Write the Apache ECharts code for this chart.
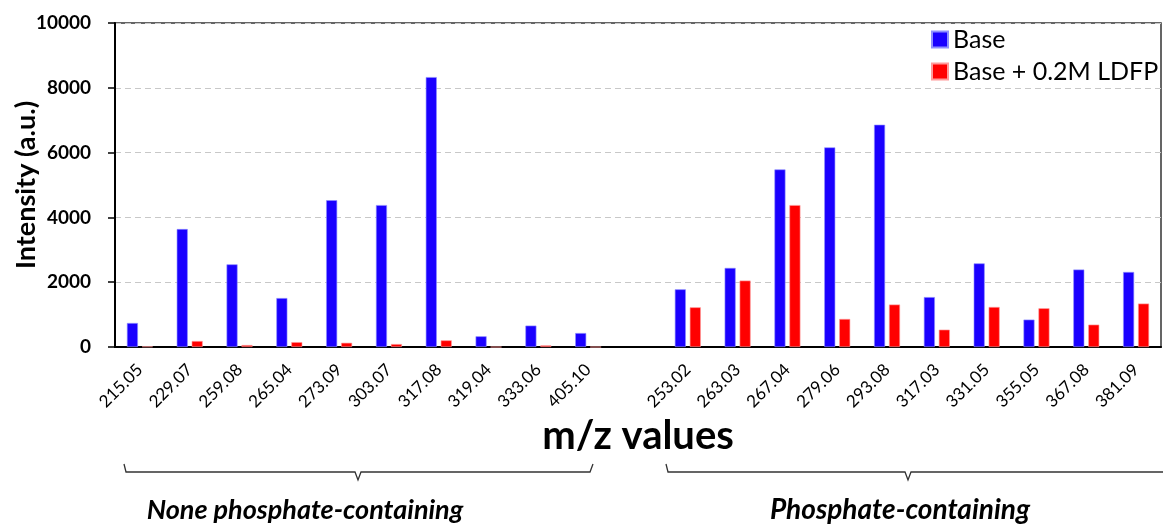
<!DOCTYPE html>
<html>
<head>
<meta charset="utf-8">
<script src="https://cdn.jsdelivr.net/npm/echarts@6/dist/echarts.min.js"></script>
<style>html,body{margin:0;padding:0;background:#fff}#c{width:1163px;height:525px}</style>
</head>
<body>
<div id="c"></div>
<script>
const categories = ['215.05','229.07','259.08','265.04','273.09','303.07','317.08','319.04','333.06','405.10','',
  '253.02','263.03','267.04','279.06','293.08','317.03','331.05','355.05','367.08','381.09'];
const baseValues = [740,3640,2550,1510,4530,4380,8330,330,660,430,null,
  1780,2440,5480,6160,6860,1540,2580,845,2390,2315];
const ldfpValues = [15,185,60,150,130,90,205,0,50,0,null,
  1225,2050,4380,865,1310,535,1235,1195,690,1340];
const yTicks = [0,2000,4000,6000,8000,10000];
const groupLabels = ['None phosphate-containing','Phosphate-containing'];

const chart = echarts.init(document.getElementById('c'));
const FONT = 'Lato, "Open Sans", sans-serif';
chart.setOption({
  animation:false,
  textStyle:{fontFamily:FONT},
  grid:{left:115,right:2,top:23,bottom:178,containLabel:false,outerBoundsMode:'none',
    show:true,borderColor:'#333',borderWidth:1.5,backgroundColor:'transparent'},
  legend:{
    orient:'vertical',left:926,top:22,itemWidth:16,itemHeight:16,itemGap:7,
    icon:'rect',
    textStyle:{fontSize:25,color:'#000',fontFamily:FONT},
    data:['Base','Base + 0.2M LDFP']
  },
  xAxis:{
    type:'category',data:categories,
    axisLine:{lineStyle:{color:'#000',width:2}},
    axisTick:{show:false},
    axisLabel:{rotate:45,fontSize:17,color:'#000',margin:20,interval:0,fontFamily:FONT},
    name:'m/z values',nameLocation:'middle',nameGap:69,nameMoveOverlap:false,
    nameTextStyle:{fontSize:40,fontWeight:'bold',color:'#000',fontFamily:FONT}
  },
  yAxis:{
    type:'value',min:yTicks[0],max:yTicks[yTicks.length-1],interval:2000,
    axisLine:{show:true,lineStyle:{color:'#000',width:2}},
    axisTick:{show:true,length:7,lineStyle:{color:'#000',width:1.5}},
    axisLabel:{fontSize:19,fontWeight:'bold',color:'#000',margin:24,fontFamily:FONT,
      formatter:function(v){return String(v);}},
    splitLine:{lineStyle:{color:'#c8c8c8',type:[6,4],width:1.2}},
    name:'Intensity (a.u.)',nameLocation:'middle',nameGap:75,nameRotate:90,nameMoveOverlap:false,
    nameTextStyle:{fontSize:27,fontWeight:'bold',color:'#000',fontFamily:FONT}
  },
  series:[
    {name:'Base',type:'bar',data:baseValues,barWidth:11,barGap:'36%',
      itemStyle:{color:'#1a00ff',borderColor:'#8f8fff',borderWidth:0.6}},
    {name:'Base + 0.2M LDFP',type:'bar',data:ldfpValues,barWidth:11,
      itemStyle:{color:'#ff0000',borderColor:'#ff9a9a',borderWidth:0.6}}
  ],
  graphic:[
    {type:'polyline',shape:{points:[[124,464],[126,472],[355,472],[358,480],[361,472],[590,472],[593,464]]},
      style:{stroke:'#333',lineWidth:1.3,fill:null}},
    {type:'polyline',shape:{points:[[666,464],[668,472],[905,472],[908,480],[911,472],[1163,472]]},
      style:{stroke:'#333',lineWidth:1.3,fill:null}},
    {type:'text',x:305,y:510,style:{text:groupLabels[0],fontSize:27,fontWeight:'bold',fontStyle:'italic',
      fill:'#000',align:'center',verticalAlign:'middle',fontFamily:FONT}},
    {type:'text',x:900,y:510,style:{text:groupLabels[1],fontSize:28,fontWeight:'bold',fontStyle:'italic',
      fill:'#000',align:'center',verticalAlign:'middle',fontFamily:FONT}}
  ]
});
</script>
</body>
</html>
